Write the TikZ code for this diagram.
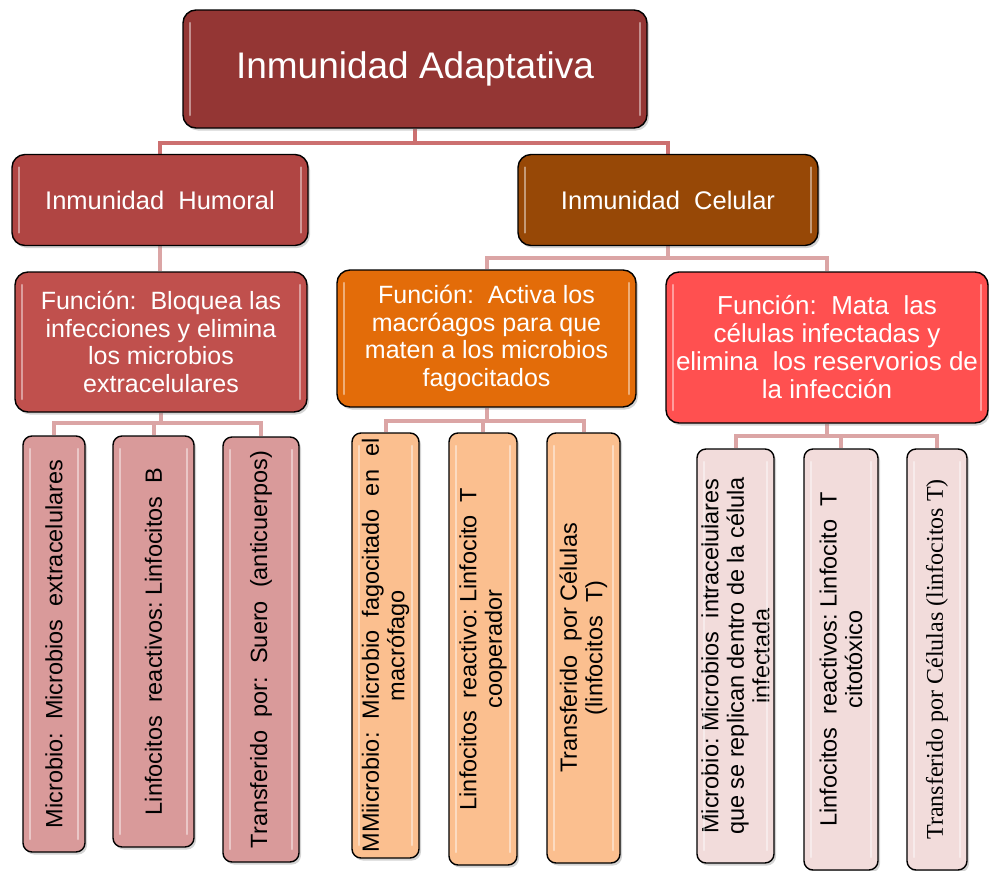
\documentclass[tikz,border=0pt]{standalone}
\usepackage{fontspec}
\setmainfont{Liberation Sans}
\newfontfamily\serifx{Liberation Serif}
\usetikzlibrary{shadows}
\definecolor{cTop}{HTML}{943634}
\definecolor{cHum}{HTML}{B04543}
\definecolor{cCel}{HTML}{974806}
\definecolor{cBlo}{HTML}{C0504D}
\definecolor{cAct}{HTML}{E36C09}
\definecolor{cMat}{HTML}{FF5050}
\definecolor{lHum}{HTML}{D99A9A}
\definecolor{lAct}{HTML}{FBBF8F}
\definecolor{lMat}{HTML}{F2DCDB}
\definecolor{conA}{HTML}{CC7070}
\definecolor{conB}{HTML}{DBA5A5}
\pgfdeclarelayer{bg}
\pgfsetlayers{bg,main}
\tikzset{
  box/.style={draw=black, line width=1.4pt, rounded corners=13pt, align=center,
    inner sep=0pt, text=white,
    drop shadow={opacity=0.35, shadow xshift=2pt, shadow yshift=-2.5pt}},
  leaf/.style={draw=black, line width=1.4pt, rounded corners=9pt, align=center,
    inner sep=0pt, text=black, rotate=90,
    font=\fontsize{23.5}{25.5}\selectfont,
    drop shadow={opacity=0.35, shadow xshift=2pt, shadow yshift=-2.5pt}},
  conn/.style={line width=4pt, draw=conB},
  hl/.style={draw=white, line width=2.5pt, opacity=0.45, line cap=round},
}
\newcommand\mybevel[4]{%
  \draw[hl] ({#1-#3/2+7},{#2-#4/2+13}) -- ({#1-#3/2+7},{#2+#4/2-13});
  \draw[hl] ({#1+#3/2-7},{#2-#4/2+13}) -- ({#1+#3/2-7},{#2+#4/2-13});
}
\begin{document}
\begin{tikzpicture}[x=1pt,y=-1pt]
\useasboundingbox (0,0) rectangle (989,871);
% level 0
\node[box, fill=cTop, minimum width=464pt, minimum height=118pt,
  font=\fontsize{37}{40}\selectfont] (top) at (415,69) {Inmunidad Adaptativa};
% level 1
\node[box, fill=cHum, minimum width=296pt, minimum height=91pt,
  font=\fontsize{25.5}{28}\selectfont] (hum) at (160,200) {Inmunidad\ \ Humoral};
\node[box, fill=cCel, minimum width=300pt, minimum height=91pt,
  font=\fontsize{25.5}{28}\selectfont] (cel) at (668,200) {Inmunidad\ \ Celular};
% level 2
\node[box, fill=cBlo, minimum width=292pt, minimum height=140pt,
  font=\fontsize{25}{27.5}\selectfont] (blo) at (161,342)
  {Función:\ \ Bloquea las\\infecciones y elimina\\los microbios\\extracelulares};
\node[box, fill=cAct, minimum width=299pt, minimum height=137pt,
  font=\fontsize{25}{27.5}\selectfont] (act) at (486.5,338.5)
  {Función:\ \ Activa los\\macróagos para que\\maten a los microbios\\fagocitados};
\node[box, fill=cMat, minimum width=322pt, minimum height=151pt,
  font=\fontsize{26}{28}\selectfont] (mat) at (827,347.5)
  {Función:\ \ Mata\ \ las\\células infectadas y\\elimina\ \ los reservorios de\\la infección};
% leaves humoral
\node[leaf, fill=lHum, minimum width=416pt, minimum height=62pt] (h1) at (54,644)
  {Microbio:\ \ Microbios\ \ extracelulares};
\node[leaf, fill=lHum, minimum width=411pt, minimum height=81pt] (h2) at (153.5,641.5)
  {Linfocitos\ \ reactivos:\ Linfocitos\ \ B};
\node[leaf, fill=lHum, minimum width=425pt, minimum height=76pt] (h3) at (261,649.5)
  {Transferido\ \ por:\ \ Suero\ \ (anticuerpos)};
% leaves activa
\node[leaf, fill=lAct, minimum width=425pt, minimum height=67pt] (a1) at (385.5,645.5)
  {MMiicrobio:\ \ Microbio\ \ fagocitado\ \ en\ \ el\\macrófago};
\node[leaf, fill=lAct, minimum width=432pt, minimum height=68pt] (a2) at (483,649)
  {Linfocitos\ \ reactivo:\ Linfocito\ \ T\\cooperador};
\node[leaf, fill=lAct, minimum width=430pt, minimum height=73pt] (a3) at (583.5,648)
  {Transferido\ \ por\ Células\\(linfocitos\ \ T)};
% leaves mata
\node[leaf, fill=lMat, minimum width=414pt, minimum height=77pt] (m1) at (735.5,656)
  {Microbio:\ Microbios\ \ intracelulares\\que se replican dentro de la célula\\infectada};
\node[leaf, fill=lMat, minimum width=421pt, minimum height=74pt] (m2) at (841,659.5)
  {Linfocitos\ \ reactivos:\ Linfocito\ \ T\\citotóxico};
\node[leaf, fill=lMat, minimum width=421pt, minimum height=60pt,
  font=\serifx\fontsize{24}{26}\selectfont] (m3) at (937,659.5)
  {Transferido por Células (linfocitos T)};
% bevel highlights
\mybevel{415}{69}{464}{118}
\mybevel{160}{200}{296}{91}
\mybevel{668}{200}{300}{91}
\mybevel{161}{342}{292}{140}
\mybevel{486.5}{338.5}{299}{137}
\mybevel{827}{347.5}{322}{151}
\mybevel{54}{644}{62}{416}
\mybevel{153.5}{641.5}{81}{411}
\mybevel{261}{649.5}{76}{425}
\mybevel{385.5}{645.5}{67}{425}
\mybevel{483}{649}{68}{432}
\mybevel{583.5}{648}{73}{430}
\mybevel{735.5}{656}{77}{414}
\mybevel{841}{659.5}{74}{421}
\mybevel{937}{659.5}{60}{421}
% connectors
\begin{pgfonlayer}{bg}
\draw[conn, draw=conA] (top.south) -- ++(0,14) -| (hum.north);
\draw[conn, draw=conA] (top.south) -- ++(0,14) -| (cel.north);
\draw[conn] (hum.south) -- (hum.south |- blo.north);
\draw[conn] (cel.south) -- ++(0,12) -| (act.north);
\draw[conn] (cel.south) -- ++(0,12) -| (mat.north);
\draw[conn] (blo.south) -- ++(0,10) -| (h1.east);
\draw[conn] (blo.south) -- ++(0,10) -| (h2.east);
\draw[conn] (blo.south) -- ++(0,10) -| (h3.east);
\draw[conn] (act.south) -- ++(0,13) -| (a1.east);
\draw[conn] (act.south) -- ++(0,13) -| (a2.east);
\draw[conn] (act.south) -- ++(0,13) -| (a3.east);
\draw[conn] (mat.south) -- ++(0,12) -| (m1.east);
\draw[conn] (mat.south) -- ++(0,12) -| (m2.east);
\draw[conn] (mat.south) -- ++(0,12) -| (m3.east);
\end{pgfonlayer}
\end{tikzpicture}
\end{document}
